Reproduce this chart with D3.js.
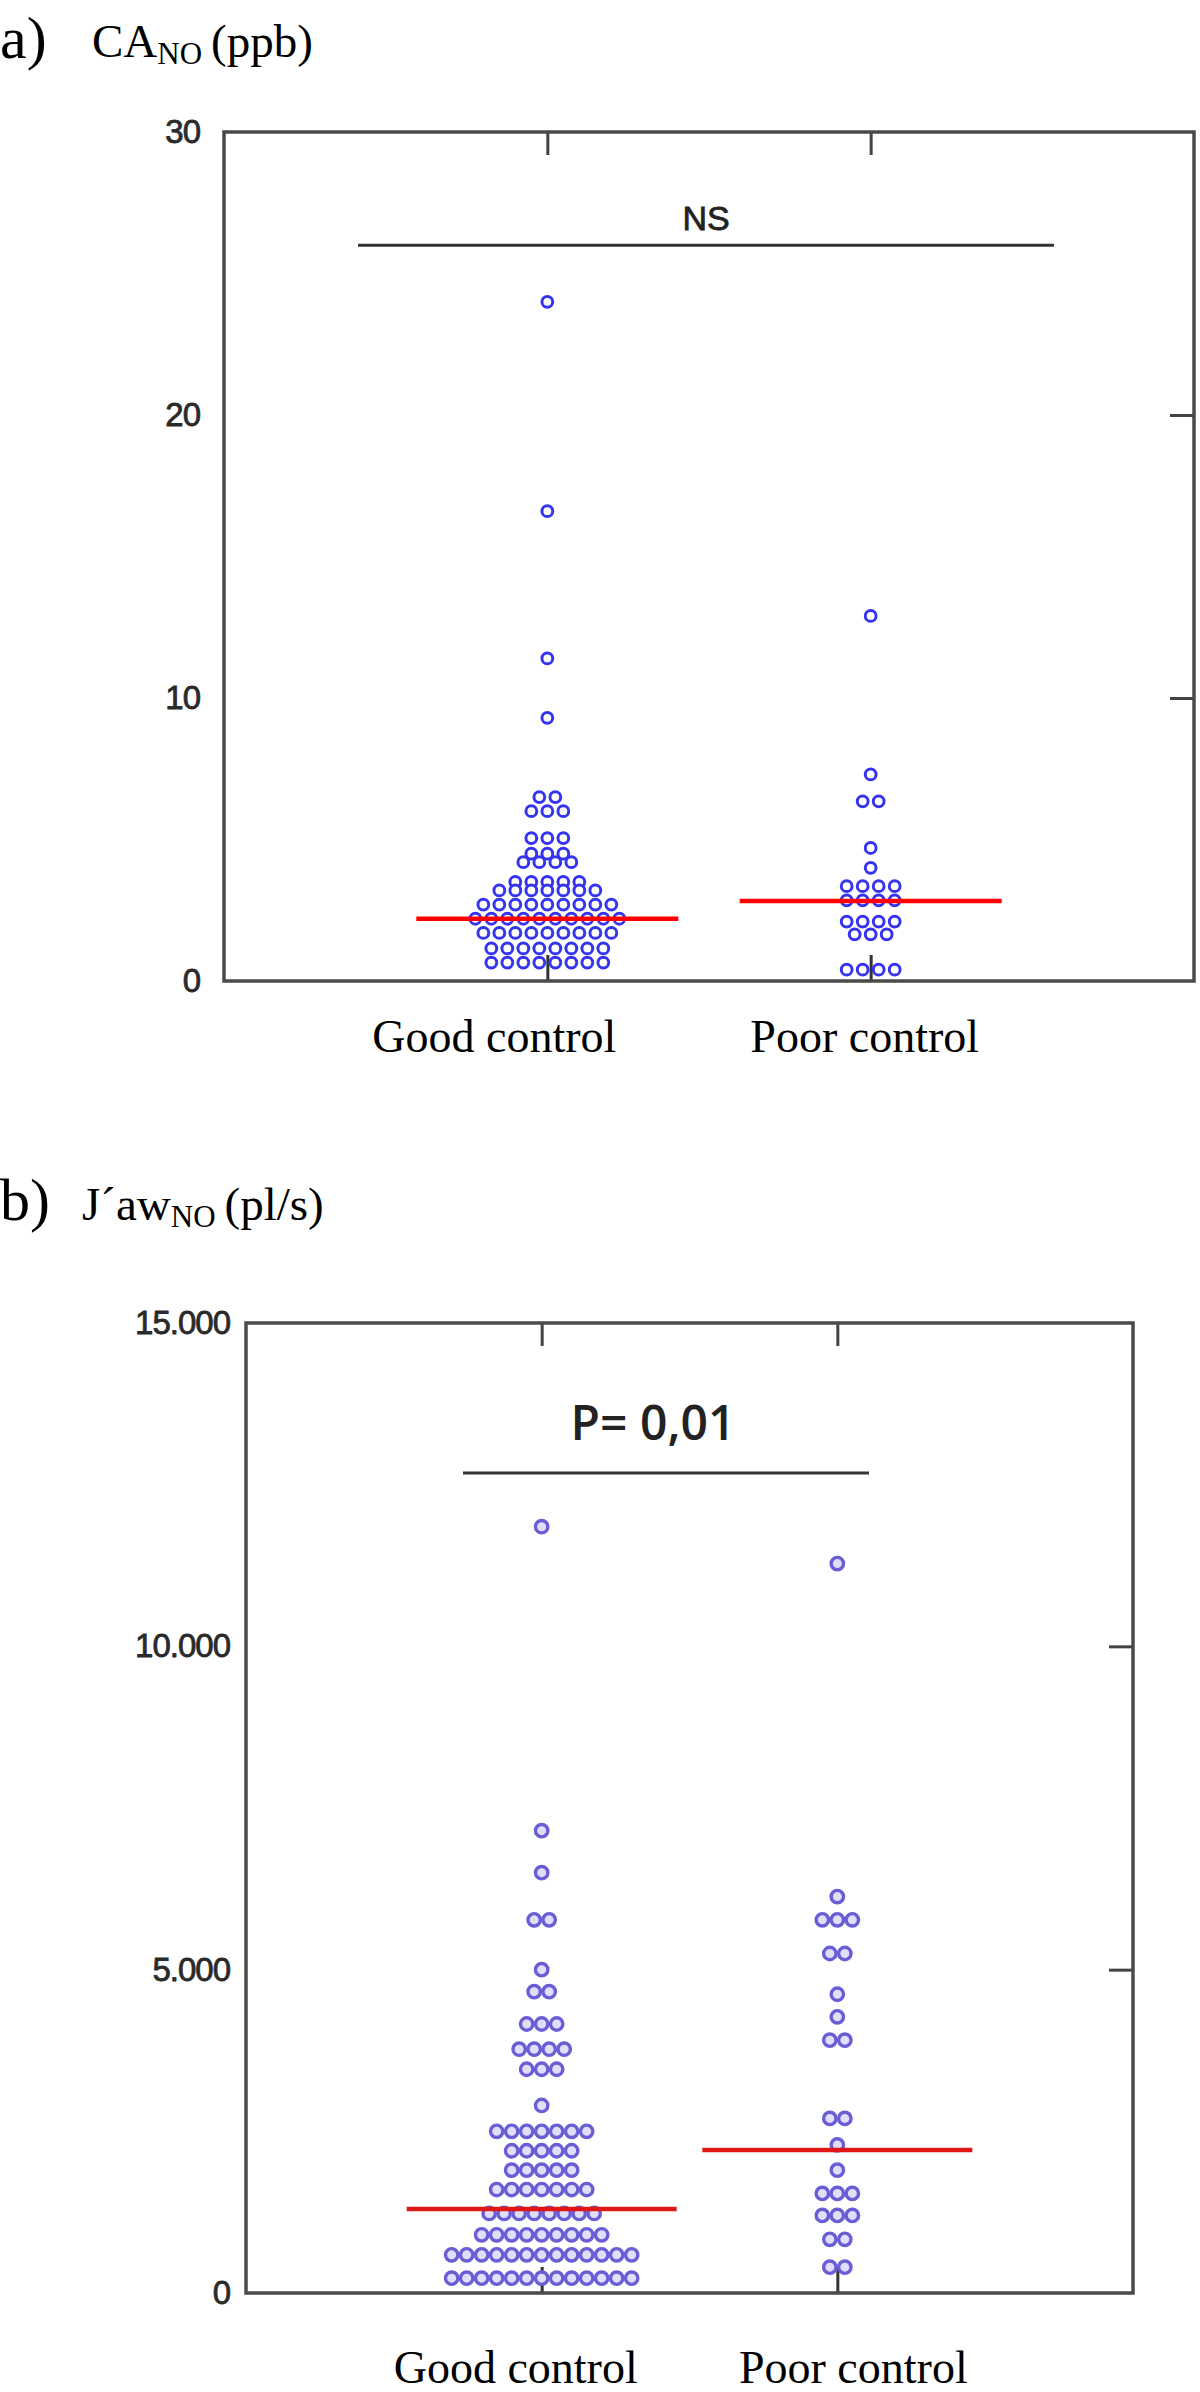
<!DOCTYPE html>
<html>
<head>
<meta charset="utf-8">
<script src="https://cdn.jsdelivr.net/npm/d3@7"></script>
<style>
  html, body { margin: 0; padding: 0; background: #ffffff; }
  svg { display: block; }
</style>
</head>
<body>
<script>
// ---------------- DATA ----------------
const categories = ["Good control", "Poor control"];

// Panel a) CA_NO (ppb)
const goodA = [24.0, 16.6, 11.4, 9.3,
  6.5, 6.5,
  6.0, 6.0, 6.0,
  5.05, 5.05, 5.05,
  4.5, 4.5, 4.5,
  4.2, 4.2, 4.2, 4.2,
  3.5, 3.5, 3.5, 3.5, 3.5,
  3.2, 3.2, 3.2, 3.2, 3.2, 3.2, 3.2,
  2.7, 2.7, 2.7, 2.7, 2.7, 2.7, 2.7, 2.7, 2.7,
  2.2, 2.2, 2.2, 2.2, 2.2, 2.2, 2.2, 2.2, 2.2, 2.2,
  1.7, 1.7, 1.7, 1.7, 1.7, 1.7, 1.7, 1.7, 1.7,
  1.15, 1.15, 1.15, 1.15, 1.15, 1.15, 1.15, 1.15,
  0.65, 0.65, 0.65, 0.65, 0.65, 0.65, 0.65, 0.65];
const poorA = [12.9, 7.3,
  6.35, 6.35,
  4.7, 4.0,
  3.35, 3.35, 3.35, 3.35,
  2.85, 2.85, 2.85, 2.85,
  2.1, 2.1, 2.1, 2.1,
  1.65, 1.65, 1.65,
  0.4, 0.4, 0.4, 0.4];
const mediansA = [2.2, 2.83];
const yTicksA = [0, 10, 20, 30];
const yTickLabelsA = ["0", "10", "20", "30"];
const sigValueA = 26;
const sigLabelA = "NS";

// Panel b) J´aw_NO (pl/s)
const goodB = [11850, 7150, 6500,
  5770, 5770,
  5000,
  4660, 4660,
  4160, 4160, 4160,
  3770, 3770, 3770, 3770,
  3460, 3460, 3460,
  2900,
  2500, 2500, 2500, 2500, 2500, 2500, 2500,
  2200, 2200, 2200, 2200, 2200,
  1900, 1900, 1900, 1900, 1900,
  1600, 1600, 1600, 1600, 1600, 1600, 1600,
  1230, 1230, 1230, 1230, 1230, 1230, 1230, 1230,
  900, 900, 900, 900, 900, 900, 900, 900, 900,
  590, 590, 590, 590, 590, 590, 590, 590, 590, 590, 590, 590, 590,
  230, 230, 230, 230, 230, 230, 230, 230, 230, 230, 230, 230, 230];
const poorB = [11280, 6130,
  5770, 5770, 5770,
  5250, 5250,
  4620, 4270,
  3910, 3910,
  2700, 2700,
  2290, 1900,
  1540, 1540, 1540,
  1200, 1200, 1200,
  830, 830,
  400, 400];
const mediansB = [1300, 2210];
const yTicksB = [0, 5000, 10000, 15000];
const yTickLabelsB = ["0", "5.000", "10.000", "15.000"];
const sigValueB = 12680;
const sigLabelB = "P= 0,01";

// ---------------- DRAW ----------------
const svg = d3.select("body").append("svg")
  .attr("width", 1200).attr("height", 2392);

function panel(o) {
  const g = svg.append("g");
  const x = d3.scalePoint().domain(categories).range([o.left, o.right]).padding(1);
  const y = d3.scaleLinear().domain(o.domain).range([o.bottom, o.top]);

  // panel letter and title
  g.append("text").attr("x", 0).attr("y", o.letterY)
    .attr("font-family", "Liberation Serif, Times New Roman, serif")
    .attr("font-size", 60).attr("fill", "#000").text(o.letter);
  const t = g.append("text").attr("x", o.titleX).attr("y", o.titleY)
    .attr("font-family", "Liberation Serif, Times New Roman, serif")
    .attr("font-size", 47).attr("fill", "#000");
  t.append("tspan").text(o.titleMain);
  t.append("tspan").attr("font-size", 31).attr("dy", 7).text("NO");
  t.append("tspan").attr("dy", -7).attr("dx", 9).text(o.titleUnit);

  // left labels (no tick marks)
  const labelMap = new Map(o.ticks.map((v, i) => [v, o.tickLabels[i]]));
  const la = g.append("g").attr("transform", `translate(${o.left},0)`)
    .call(d3.axisLeft(y).tickValues(o.ticks).tickSize(0).tickPadding(o.labelPad)
      .tickFormat(v => labelMap.get(v)));
  la.select(".domain").remove();
  la.selectAll("text").attr("font-family", "Liberation Sans, Arial, sans-serif")
    .attr("font-size", 33).attr("fill", "#2a2a2a")
    .attr("stroke", "#2a2a2a").attr("stroke-width", 0.8)
    .attr("letter-spacing", -1);

  // right inward ticks
  const ra = g.append("g").attr("transform", `translate(${o.right},0)`)
    .call(d3.axisLeft(y).tickValues(o.ticks.slice(1, -1)).tickSize(24).tickFormat(""));
  ra.select(".domain").remove();
  ra.selectAll("line").attr("stroke", "#444").attr("stroke-width", 3);

  // top inward ticks
  const ta = g.append("g").attr("transform", `translate(0,${o.top})`)
    .call(d3.axisBottom(x).tickSize(23).tickFormat(""));
  ta.select(".domain").remove();
  ta.selectAll("line").attr("stroke", "#444").attr("stroke-width", 3);

  // bottom inward ticks
  const ba = g.append("g").attr("transform", `translate(0,${o.bottom})`)
    .call(d3.axisTop(x).tickSize(26).tickFormat(""));
  ba.select(".domain").remove();
  ba.selectAll("line").attr("stroke", "#333").attr("stroke-width", 3);

  // category labels
  g.selectAll(".cat").data(categories).enter().append("text")
    .attr("x", (d, i) => x(d) + o.catOffsets[i]).attr("y", o.catY)
    .attr("text-anchor", "middle")
    .attr("font-family", "Liberation Serif, Times New Roman, serif")
    .attr("font-size", 46).attr("fill", "#000").text(d => d);

  // significance line + label
  g.append("line").attr("x1", o.sigX1).attr("x2", o.sigX2)
    .attr("y1", y(o.sigValue)).attr("y2", y(o.sigValue))
    .attr("stroke", "#333").attr("stroke-width", 3);
  g.append("text").attr("x", o.sigTextX).attr("y", y(o.sigValue) - o.sigTextGap)
    .attr("text-anchor", "middle")
    .attr("font-family", o.sigFont).attr("font-weight", o.sigWeight)
    .attr("font-size", o.sigSize).attr("fill", "#222")
    .attr("stroke", "#222").attr("stroke-width", o.sigStroke).text(o.sigLabel);

  // dots (rows of equal values spread horizontally)
  [o.good, o.poor].forEach((vals, ci) => {
    const rows = d3.groups(vals, v => v);
    const pts = [];
    rows.forEach(([v, arr]) => {
      arr.forEach((_, i) => pts.push({ v, off: (i - (arr.length - 1) / 2) * o.spacing }));
    });
    g.append("g").selectAll("circle").data(pts).enter().append("circle")
      .attr("cx", d => x(categories[ci]) + d.off)
      .attr("cy", d => y(d.v))
      .attr("r", o.r)
      .attr("fill", o.dotFill).attr("stroke", o.dotStroke).attr("stroke-width", o.dotSW);
  });

  // median lines
  g.selectAll(".med").data(o.medians).enter().append("line")
    .attr("x1", (d, i) => x(categories[i]) - o.medHalf)
    .attr("x2", (d, i) => x(categories[i]) + o.medHalf)
    .attr("y1", d => y(d)).attr("y2", d => y(d))
    .attr("stroke", o.medColor).attr("stroke-width", 4.5);

  // frame
  g.append("rect").attr("x", o.left).attr("y", o.top)
    .attr("width", o.right - o.left).attr("height", o.bottom - o.top)
    .attr("fill", "none").attr("stroke", "#4a4a4a").attr("stroke-width", 3.5);
}

panel({
  left: 224, right: 1194, top: 132, bottom: 981, domain: [0, 30],
  letter: "a)", letterY: 58, titleX: 92, titleY: 57, titleMain: "CA", titleUnit: "(ppb)",
  ticks: yTicksA, tickLabels: yTickLabelsA, labelPad: 24,
  catOffsets: [-53, -6], catY: 1052,
  sigValue: sigValueA, sigLabel: sigLabelA, sigX1: 358, sigX2: 1054, sigTextX: 706, sigTextGap: 15,
  sigFont: "Liberation Sans, Arial, sans-serif", sigWeight: 400, sigSize: 34, sigStroke: 0.8,
  good: goodA, poor: poorA, spacing: 16, r: 5.4,
  dotFill: "#ffffff", dotStroke: "#3535f0", dotSW: 3,
  medians: mediansA, medHalf: 131, medColor: "#ff0000"
});

panel({
  left: 246, right: 1133, top: 1323, bottom: 2293, domain: [0, 15000],
  letter: "b)", letterY: 1220, titleX: 82, titleY: 1220, titleMain: "J\u00B4aw", titleUnit: "(pl/s)",
  ticks: yTicksB, tickLabels: yTickLabelsB, labelPad: 16,
  catOffsets: [-26, 16], catY: 2383,
  sigValue: sigValueB, sigLabel: sigLabelB, sigX1: 463, sigX2: 869, sigTextX: 653, sigTextGap: 33,
  sigFont: "Open Sans, Liberation Sans, sans-serif", sigWeight: 600, sigSize: 48, sigStroke: 0,
  good: goodB, poor: poorB, spacing: 15, r: 6.2,
  dotFill: "#e2defa", dotStroke: "#6a5ed6", dotSW: 3.4,
  medians: mediansB, medHalf: 135, medColor: "#e01515"
});
</script>
</body>
</html>
